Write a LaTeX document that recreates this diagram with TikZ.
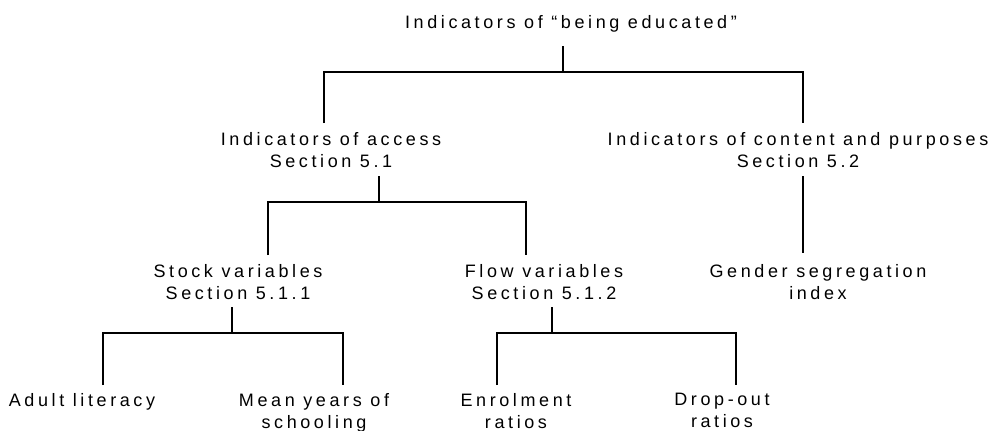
\documentclass[tikz,border=0pt]{standalone}
\usepackage{fontspec}
\setmainfont[LetterSpace=20]{Liberation Sans}
\begin{document}
\begin{tikzpicture}[x=1pt,y=-1pt,
  lbl/.style={anchor=north,inner sep=0pt,align=center,font=\fontsize{18}{22}\selectfont},
  conn/.style={line width=1.9pt,black}]
\useasboundingbox (0,0) rectangle (996,431);
% nodes
\node[lbl] (root) at (571,15) {Indicators of “being educated”};
\node[lbl] (access) at (331,132) {Indicators of access\\Section 5.1};
\node[lbl] (content) at (798,132) {Indicators of content and purposes\\Section 5.2};
\node[lbl] (stock) at (238,264) {Stock variables\\Section 5.1.1};
\node[lbl] (flow) at (544,264) {Flow variables\\Section 5.1.2};
\node[lbl] (gender) at (818,264) {Gender segregation\\index};
\node[lbl] (adult) at (82,393) {Adult literacy};
\node[lbl] (mean) at (314,393) {Mean years of\\schooling};
\node[lbl] (enrol) at (516,393) {Enrolment\\ratios};
\node[lbl] (drop) at (722,393) {Drop-out\\ratios};
% junction coordinates
\coordinate (r0) at (563,46);
\coordinate (j0) at (563,72);
\coordinate (a0) at (324,123);
\coordinate (b0) at (803,123);
\coordinate (a1) at (379,176);
\coordinate (j1) at (379,202);
\coordinate (c1) at (268,255);
\coordinate (d1) at (526,255);
\coordinate (g0) at (803,176);
\coordinate (g1) at (803,253);
\coordinate (s0) at (232,307);
\coordinate (s1) at (232,333);
\coordinate (s2) at (103,385);
\coordinate (s3) at (343,385);
\coordinate (f0) at (552,307);
\coordinate (f1) at (552,333);
\coordinate (f2) at (497,385);
\coordinate (f3) at (736,385);
% connectors
\draw[conn] (r0) -- (j0);
\draw[conn] (a0) |- (j0) -| (b0);
\draw[conn] (a1) -- (j1);
\draw[conn] (c1) |- (j1) -| (d1);
\draw[conn] (g0) -- (g1);
\draw[conn] (s0) -- (s1);
\draw[conn] (s2) |- (s1) -| (s3);
\draw[conn] (f0) -- (f1);
\draw[conn] (f2) |- (f1) -| (f3);
\end{tikzpicture}
\end{document}
